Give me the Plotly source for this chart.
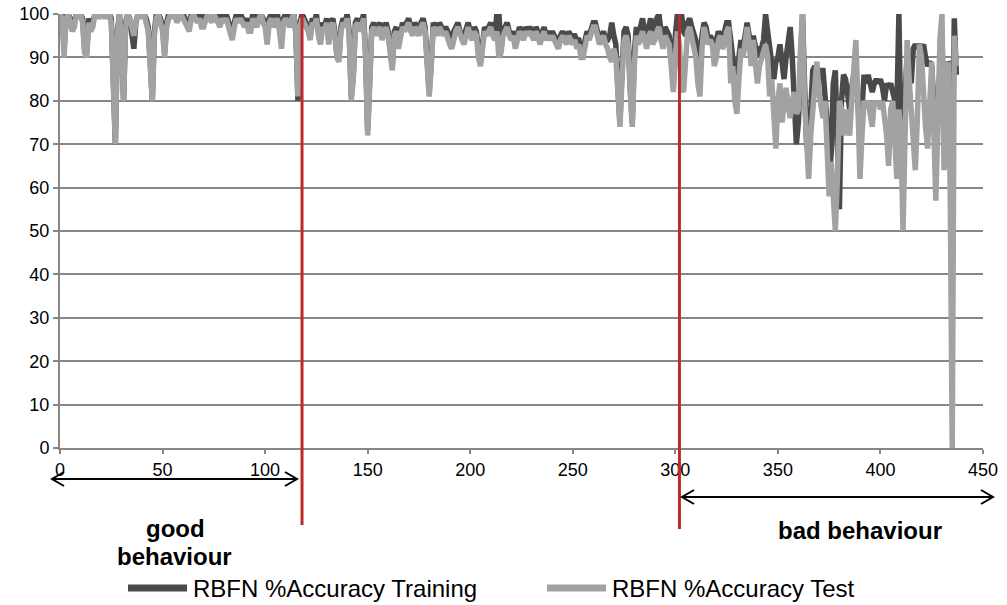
import plotly.graph_objects as go

# ---------------- data ----------------
test_0_119 = [
    100, 99, 90, 99, 100, 98, 96, 97, 100, 99,
    100, 98, 91, 90, 98, 96, 97, 100, 100, 99,
    100, 100, 99, 100, 100, 98, 85, 70, 95, 100,
    92, 80, 97, 100, 99, 97, 95, 98, 100, 100,
    99, 100, 98, 96, 88, 80, 95, 99, 100, 98,
    96, 90, 97, 99, 100, 99, 100, 98, 99, 100,
    99, 98, 97, 96, 99, 100, 99, 98, 99, 97,
    97, 99, 100, 99, 98, 100, 99, 98, 97, 99,
    98, 99, 97, 95, 94, 97, 99, 98, 99, 98,
    97, 98, 96, 96, 99, 98, 97, 99, 100, 98,
    97, 93, 98, 99, 97, 98, 99, 96, 92, 98,
    99, 98, 97, 99, 100, 95, 81, 97, 99, 98,
]
test_120_299 = [
    97, 96, 94, 98, 97, 99, 95, 93, 97, 96,
    98, 93, 97, 98, 95, 90, 89, 96, 98, 97,
    99, 95, 80, 85, 97, 98, 96, 97, 99, 90,
    72, 90, 96, 97, 95, 96, 97, 94, 96, 97,
    95, 90, 87, 95, 96, 92, 95, 97, 96, 97,
    98, 96, 95, 97, 96, 95, 97, 98, 96, 90,
    81, 88, 97, 96, 95, 97, 96, 95, 96, 94,
    93, 92, 95, 96, 97, 95, 94, 93, 96, 97,
    95, 94, 96, 95, 90, 88, 92, 96, 95, 96,
    97, 95, 94, 96, 90, 91, 95, 96, 97, 95,
    94, 95, 92, 94, 96, 95, 94, 96, 95, 96,
    95, 94, 96, 95, 93, 95, 96, 94, 95, 94,
    95, 94, 93, 92, 94, 95, 94, 93, 95, 94,
    93, 94, 92, 93, 90, 90, 93, 95, 94, 96,
    97, 97, 95, 93, 94, 95, 93, 92, 90, 89,
    92, 90, 82, 74, 85, 94, 95, 93, 82, 74,
    88, 95, 93, 95, 96, 94, 92, 95, 96, 93,
    94, 96, 97, 94, 92, 95, 94, 93, 88, 82,
]
test_300_437 = [
    90, 96, 93, 83, 82, 92, 96, 97, 95, 93,
    90, 84, 81, 92, 97, 95, 93, 94, 93, 88,
    90, 94, 95, 92, 93, 96, 97, 84, 88, 80,
    77, 85, 92, 90, 94, 97, 93, 88, 94, 90,
    84, 88, 90, 91, 93, 90, 81, 85, 78, 69,
    80, 84, 75, 80, 83, 79, 76, 80, 82, 77,
    78, 92, 100, 80, 70, 62, 72, 78, 85, 89,
    82, 78, 76, 80, 70, 58, 66, 60, 50, 62,
    80, 78, 72, 78, 75, 72, 80, 88, 94, 80,
    62, 72, 80, 79, 80, 77, 74, 80, 79, 80,
    78, 80, 76, 72, 65, 78, 80, 70, 62, 78,
    72, 50, 78, 94, 85, 77, 70, 64, 76, 93,
    90, 80, 74, 69, 80, 89, 74, 57, 75, 94,
    100, 64, 75, 89, 60, 0, 95, 88,
]

train_0_119 = [
    100, 100, 92, 100, 100, 99, 97, 98, 100, 100,
    100, 99, 92, 91, 99, 97, 98, 100, 100, 100,
    100, 100, 100, 100, 100, 99, 86, 70, 96, 100,
    93, 80, 98, 100, 99, 95, 92, 98, 100, 100,
    100, 100, 99, 97, 89, 80, 96, 100, 100, 99,
    97, 91, 98, 100, 100, 100, 100, 99, 100, 100,
    100, 99, 98, 97, 100, 100, 100, 99, 100, 98,
    98, 100, 100, 100, 99, 100, 100, 99, 98, 100,
    99, 100, 98, 97, 96, 98, 100, 99, 100, 99,
    98, 99, 97, 97, 100, 99, 98, 100, 100, 99,
    98, 95, 99, 100, 98, 99, 100, 97, 94, 99,
    100, 99, 98, 100, 100, 96, 80, 98, 100, 99,
]
train_120_299 = [
    98, 97, 95, 99, 98, 100, 96, 94, 98, 97,
    99, 94, 98, 99, 96, 91, 90, 97, 99, 98,
    100, 96, 81, 86, 98, 99, 97, 98, 100, 91,
    73, 91, 97, 98, 96, 97, 98, 95, 97, 98,
    96, 91, 88, 96, 97, 93, 96, 98, 97, 98,
    99, 97, 96, 98, 97, 96, 98, 99, 97, 91,
    82, 89, 98, 97, 96, 98, 97, 96, 97, 96,
    95, 94, 96, 97, 98, 96, 95, 95, 97, 98,
    96, 95, 97, 96, 92, 89, 93, 97, 96, 97,
    98, 96, 95, 100, 100, 92, 96, 97, 98, 96,
    95, 96, 94, 95, 97, 96, 95, 97, 96, 97,
    96, 95, 97, 96, 94, 96, 97, 95, 96, 95,
    96, 95, 94, 94, 95, 96, 95, 94, 96, 95,
    95, 95, 94, 94, 92, 91, 94, 96, 95, 97,
    98, 98, 96, 94, 95, 96, 94, 94, 95, 98,
    95, 93, 83, 75, 87, 96, 97, 95, 83, 75,
    91, 97, 95, 97, 99, 96, 95, 97, 99, 96,
    97, 99, 100, 96, 95, 97, 96, 95, 91, 83,
]
train_300_437 = [
    95, 100, 97, 100, 96, 95, 98, 99, 97, 95,
    94, 90, 88, 95, 98, 97, 94, 95, 94, 92,
    94, 96, 95, 93, 96, 98, 98, 92, 90, 88,
    86, 90, 94, 92, 95, 98, 95, 92, 95, 92,
    90, 92, 92, 94, 100, 96, 92, 90, 85, 89,
    90, 93, 90, 85, 90, 94, 97, 90, 80, 70,
    75, 92, 100, 84, 70, 68, 80, 87, 88, 87,
    85, 87, 87, 82, 75, 62, 68, 84, 87, 70,
    55, 80, 86, 85, 80, 78, 83, 86, 85, 80,
    70, 78, 86, 84, 86, 84, 82, 84, 85, 84,
    85, 83, 80, 84, 83, 84, 82, 80, 78, 100,
    71, 80, 82, 90, 86, 84, 92, 93, 92, 93,
    92, 93, 90, 88, 89, 88, 80, 65, 78, 90,
    96, 70, 82, 89, 88, 65, 99, 86,
]

accuracy_test = test_0_119 + test_120_299 + test_300_437
accuracy_training = train_0_119 + train_120_299 + train_300_437
sample_index = list(range(len(accuracy_test)))

x_ticks = [0, 50, 100, 150, 200, 250, 300, 350, 400, 450]
y_ticks = [0, 10, 20, 30, 40, 50, 60, 70, 80, 90, 100]
boundaries = [118, 302]
series_names = ["RBFN %Accuracy Training", "RBFN %Accuracy Test"]

# ---------------- figure ----------------
FONT = "Liberation Sans Narrow, Arial Narrow, Liberation Sans, sans-serif"
DARK = "#4a4a4c"
LIGHT = "#a2a2a4"
RED = "#be2a2a"
GRID = "#878787"

fig = go.Figure()
fig.add_trace(go.Scatter(x=sample_index, y=accuracy_training, mode="lines",
                         name=series_names[0], line=dict(color=DARK, width=5.5),
                         showlegend=False))
fig.add_trace(go.Scatter(x=sample_index, y=accuracy_test, mode="lines",
                         name=series_names[1], line=dict(color=LIGHT, width=5.5),
                         showlegend=False))

W, H = 1007, 605
L, R, T, B = 60, 24, 14, 157
pw, ph = W - L - R, H - T - B


def px(xp):
    return (xp - L) / pw


def py(yp):
    return (H - B - yp) / ph


shapes = []
# red boundary lines
for xb, ybot in zip(boundaries, [525, 529]):
    shapes.append(dict(type="line", xref="x", yref="paper", x0=xb, x1=xb,
                       y0=py(ybot), y1=1, line=dict(color=RED, width=3), layer="above"))


def arrow(x0p, x1p, yp):
    dx = 12 / pw
    dy = 7 / ph
    a, b, y = px(x0p), px(x1p), py(yp)
    path = (f"M{a},{y} L{b},{y} "
            f"M{a + dx},{y + dy} L{a},{y} L{a + dx},{y - dy} "
            f"M{b - dx},{y + dy} L{b},{y} L{b - dx},{y - dy}")
    return dict(type="path", xref="paper", yref="paper", path=path,
                line=dict(color="black", width=2))


shapes.append(arrow(52, 297, 479))
shapes.append(arrow(682, 993, 497))

# legend samples
shapes.append(dict(type="line", xref="paper", yref="paper", x0=px(128), x1=px(187),
                   y0=py(588), y1=py(588), line=dict(color=DARK, width=7)))
shapes.append(dict(type="line", xref="paper", yref="paper", x0=px(547), x1=px(606),
                   y0=py(588), y1=py(588), line=dict(color=LIGHT, width=7)))

annotations = [
    dict(text="<b>good</b>", x=px(175), y=py(528), xref="paper", yref="paper",
         xanchor="center", yanchor="middle", showarrow=False,
         font=dict(family=FONT, size=24, color="black")),
    dict(text="<b>behaviour</b>", x=px(174), y=py(556), xref="paper", yref="paper",
         xanchor="center", yanchor="middle", showarrow=False,
         font=dict(family=FONT, size=24, color="black")),
    dict(text="<b>bad behaviour</b>", x=px(860), y=py(530), xref="paper", yref="paper",
         xanchor="center", yanchor="middle", showarrow=False,
         font=dict(family=FONT, size=24, color="black")),
    dict(text=series_names[0], x=px(191), y=py(588), xref="paper", yref="paper",
         xanchor="left", yanchor="middle", showarrow=False,
         font=dict(family=FONT, size=24, color="black")),
    dict(text=series_names[1], x=px(610), y=py(588), xref="paper", yref="paper",
         xanchor="left", yanchor="middle", showarrow=False,
         font=dict(family=FONT, size=24, color="black")),
]

fig.update_layout(
    width=W, height=H,
    margin=dict(l=L, r=R, t=T, b=B, autoexpand=False),
    paper_bgcolor="white", plot_bgcolor="white",
    font=dict(family=FONT, size=18, color="black"),
    shapes=shapes, annotations=annotations,
    showlegend=False,
)
fig.update_xaxes(range=[0, 450], tickvals=x_ticks, showgrid=False, zeroline=False,
                 showline=True, linecolor=GRID, linewidth=2, ticks="outside",
                 tickcolor=GRID, ticklen=4, tickwidth=2, tickfont=dict(size=18),
                 automargin=False)
fig.update_yaxes(range=[0, 100], tickvals=y_ticks, showgrid=True, gridcolor=GRID,
                 gridwidth=2, zeroline=False, showline=True, linecolor=GRID,
                 linewidth=2, ticks="outside", tickcolor=GRID, ticklen=5,
                 tickwidth=2, tickfont=dict(size=18), automargin=False)

fig.write_html(
    "out.html",
    config={"displayModeBar": False},
    post_script="document.body.style.margin='0';document.body.style.overflow='hidden';",
)
